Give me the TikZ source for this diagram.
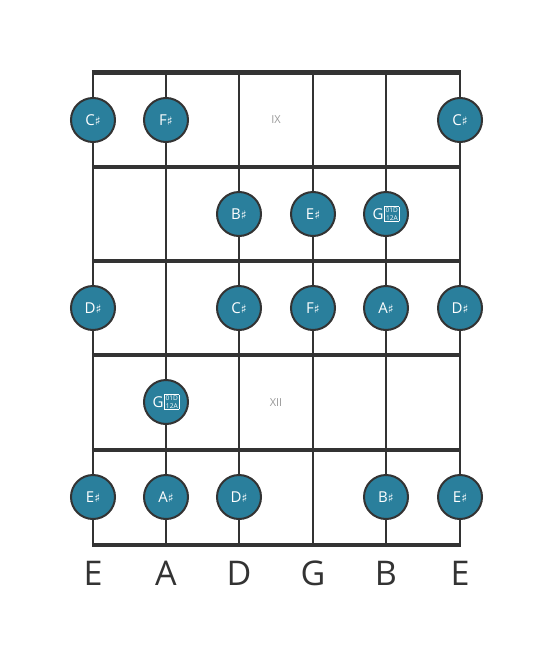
\documentclass[tikz,border=0pt]{standalone}
\usepackage{fontspec}
\setmainfont{Open Sans}
\newfontfamily\symfont{DejaVu Sans}
\definecolor{teal1}{HTML}{2A7F9C}
\definecolor{ink}{HTML}{333333}
\newcommand{\shp}{{\symfont\fontsize{12}{12}\selectfont ♯}}
\newcommand{\tofu}{{\setlength{\fboxsep}{0.8pt}\setlength{\fboxrule}{0.5pt}\fontsize{6.6}{6.8}\selectfont\raisebox{-1.2pt}{\fbox{\shortstack{01D\\12A}}}}}
\tikzset{
  note/.style={circle,draw=ink,line width=2pt,fill=teal1,minimum size=44pt,inner sep=0pt,text=white,font=\fontsize{15}{15}\selectfont},
  fret/.style={ink,line width=4pt},
  nut/.style={ink,line width=5pt},
  stringline/.style={ink,line width=2.5pt},
  fretnum/.style={text=gray!80,font=\fontsize{11}{11}\selectfont},
  strname/.style={text=ink,font=\fontsize{34}{34}\selectfont}
}
\begin{document}
\begin{tikzpicture}[x=1pt,y=-1pt]
\useasboundingbox (0,0) rectangle (553,656);
% strings
\foreach \x/\n in {93/1,166/2,239/3,313/4,386/5,460/6}{
  \coordinate (st\n) at (\x,72);
  \coordinate (sb\n) at (\x,545);
  \draw[stringline] (st\n) -- (sb\n);
}
% frets
\coordinate (fl0) at (93,72); \coordinate (fr0) at (460,72);
\draw[nut] ([xshift=-1.25pt]fl0) -- ([xshift=1.25pt]fr0);
\foreach \y/\n in {167/1,261/2,355/3,450/4,545/5}{
  \coordinate (fl\n) at (93,\y);
  \coordinate (fr\n) at (460,\y);
  \draw[fret] ([xshift=-1.25pt]fl\n) -- ([xshift=1.25pt]fr\n);
}
% fret numbers
\node[fretnum] (f9) at (276,120) {IX};
\node[fretnum] (f12) at (276,403) {XII};
% notes row 1
\node[note] (n11) at (93,120) {C\shp};
\node[note] (n12) at (166,120) {F\shp};
\node[note] (n16) at (460,120) {C\shp};
% row 2
\node[note] (n23) at (239,214) {B\shp};
\node[note] (n24) at (313,214) {E\shp};
\node[note] (n25) at (386,214) {G\kern0.8pt\tofu};
% row 3
\node[note] (n31) at (93,308) {D\shp};
\node[note] (n33) at (239,308) {C\shp};
\node[note] (n34) at (313,308) {F\shp};
\node[note] (n35) at (386,308) {A\shp};
\node[note] (n36) at (460,308) {D\shp};
% row 4
\node[note] (n42) at (166,402) {G\kern0.8pt\tofu};
% row 5
\node[note] (n51) at (93,497) {E\shp};
\node[note] (n52) at (166,497) {A\shp};
\node[note] (n53) at (239,497) {D\shp};
\node[note] (n55) at (386,497) {B\shp};
\node[note] (n56) at (460,497) {E\shp};
% string names
\foreach \x/\t/\n in {93/E/1,166/A/2,239/D/3,313/G/4,386/B/5,460/E/6}{
  \node[strname] (name\n) at (\x,573) {\t};
}
\end{tikzpicture}
\end{document}
